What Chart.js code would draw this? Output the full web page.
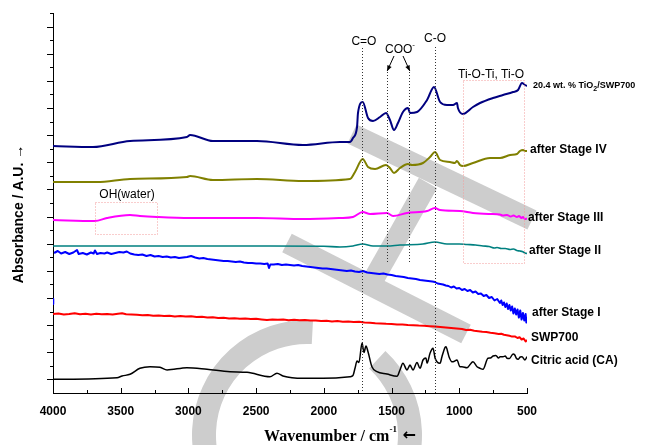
<!DOCTYPE html>
<html>
<head>
<meta charset="UTF-8">
<title>FTIR spectra</title>
<script src="https://cdn.jsdelivr.net/npm/chart.js@4.4.1/dist/chart.umd.min.js"></script>
<style>
  html, body { margin: 0; padding: 0; background: #fff; }
  #wrap { width: 646px; height: 445px; }
</style>
</head>
<body>
<div id="wrap"><canvas id="c" width="646" height="445"></canvas></div>
<script>
// wavenumber (cm-1) / absorbance (a.u., stacked)
const navyWn = [4000,3705,3431,3011,2988,2819,2494,2154,1881,1807,1785,1755,1748,1713,1674,1637,1585,1541,1512,1482,1453,1416,1379,1364,1312,1238,1187,1142,1091,1046,1017,1010,973,899,847,751,677,603,566,537,515,500];
const navyAbs = [24.7,24.6,25.2,25.6,25.8,25.2,25.2,24.8,25.1,25.1,25.5,26.6,28.0,29.1,27.5,27.2,27.6,28.0,27.3,26.3,27.0,28.1,28.5,28.0,28.1,29.3,30.6,29.1,28.8,28.8,29.0,28.5,27.9,28.6,29.0,29.5,29.8,30.1,30.3,31.0,30.8,30.7];

const stage4Wn = [4000,3675,3431,3011,2988,2819,2494,2154,1807,1770,1713,1674,1622,1541,1512,1482,1438,1379,1349,1268,1216,1179,1142,1069,1032,1017,995,973,899,773,699,625,574,552,529,515,500];
const stage4Abs = [21.1,21.1,21.4,21.6,21.7,21.3,21.4,21.2,21.4,22.1,23.4,22.6,22.4,22.8,22.5,22.0,22.5,22.9,22.8,23.0,23.6,24.1,23.3,23.1,23.0,23.2,22.8,22.7,23.0,23.5,23.5,23.8,23.9,24.2,24.3,24.2,24.2];

const stage3Wn = [4000,3690,3601,3431,3358,3232,2988,2494,2154,1881,1785,1713,1659,1534,1489,1386,1238,1179,1142,995,899,773,700,680,648,620,600,574,560,540,530,515,500];
const stage3Abs = [17.3,17.2,17.5,17.8,17.7,17.6,17.5,17.5,17.4,17.5,17.6,18.1,17.9,18.0,17.7,18.0,18.2,18.5,18.3,18.2,18.0,17.9,17.85,17.75,17.8,17.65,17.75,17.6,17.7,17.5,17.6,17.4,17.45];

const stage2Wn = [4000,3500,3000,2500,2000,1881,1785,1713,1637,1534,1438,1268,1179,1091,1000,943,880,825,780,740,721,690,660,625,600,575,552,535,515,500];
const stage2Abs = [14.7,14.7,14.7,14.7,14.68,14.6,14.7,14.9,14.7,14.7,14.8,14.9,15.1,14.9,14.9,14.85,14.8,14.7,14.65,14.5,14.55,14.45,14.45,14.35,14.4,14.25,14.2,14.15,14.0,13.95];

const stage1Wn = [4000,3998,3996,3992,3965,3940,3910,3880,3850,3823,3810,3780,
  3750,3720,3700,3690,3675,3650,3620,3600,3570,3540,
  3510,3480,3455,3430,3400,3370,3340,3310,3280,3250,
  3220,3190,3160,3130,3100,3070,3040,3010,2980,2950,
  2920,2890,2860,2830,2800,2770,2740,2710,2680,2650,
  2620,2590,2560,2530,2500,2470,2440,2415,2405,2395,
  2370,2340,2310,2280,2250,2220,2190,2160,2130,2100,
  2070,2040,2010,1980,1950,1920,1890,1860,1830,1800,
  1770,1740,1710,1680,1650,1620,1590,1560,1530,1500,
  1470,1440,1410,1380,1350,1320,1290,1260,1230,1200,
  1180,1160,1140,1120,1100,1080,1060,1040,1020,1000,
  980,960,940,920,900,880,860,840,820,800,
  780,760,740,720,700,690,680,670,660,650,
  640,630,620,610,600,590,580,570,560,550,
  540,530,520,510,505,500];
const stage1Abs = [9.4,8.9,null,14.0,14.2,13.95,14.1,13.9,14.05,14.3,13.9,14.0,
  13.85,14.05,13.95,14.25,13.9,14.0,13.95,14.05,13.9,14.0,
  14.1,14.05,14.15,13.95,13.85,13.8,13.85,13.7,13.8,13.65,
  13.7,13.6,13.65,13.55,13.6,13.5,13.55,13.6,13.7,13.55,
  13.45,13.5,13.4,13.35,13.3,13.25,13.2,13.2,13.15,13.1,
  13.15,13.05,13.0,13.0,12.95,12.95,12.9,12.95,12.5,12.85,
  12.85,12.9,12.8,12.85,12.8,12.75,12.8,12.7,12.65,12.6,
  12.55,12.5,12.45,12.45,12.4,12.35,12.3,12.25,12.2,12.25,
  12.15,12.1,12.2,12.05,12.0,11.95,11.9,11.95,11.85,11.8,
  11.7,11.65,11.6,11.5,11.45,11.4,11.3,11.25,11.2,11.15,
  11.1,10.95,10.9,10.85,10.75,10.7,10.55,10.65,10.45,10.5,
  10.3,10.4,10.2,10.3,10.05,10.15,9.9,9.95,9.7,9.8,
  9.5,9.6,9.25,9.4,9.0,9.25,8.8,9.05,8.6,8.95,
  8.4,8.8,8.25,8.65,7.95,8.45,7.85,8.35,7.55,8.25,
  7.35,8.0,7.25,7.9,7.05,7.6];

const swpWn = [4000,3960,3920,3880,3840,3800,3760,3720,3680,3640,
  3600,3560,3520,3490,3460,3420,3380,3340,3300,3260,
  3220,3180,3140,3100,3060,3020,2980,2940,2900,2860,
  2820,2780,2740,2700,2660,2620,2580,2540,2500,2460,
  2420,2380,2340,2300,2260,2220,2180,2140,2100,2060,
  2020,1980,1940,1900,1860,1820,1780,1740,1700,1660,
  1620,1580,1540,1500,1460,1420,1380,1340,1300,1260,
  1220,1180,1140,1100,1060,1020,980,950,920,890,
  860,830,800,770,740,710,690,670,650,630,
  610,590,570,555,540,525,510,500];
const swpAbs = [7.9,7.95,7.85,7.9,7.98,7.88,7.93,7.86,7.92,7.87,
  7.9,7.84,7.92,7.97,7.88,7.85,7.82,7.78,7.8,7.72,
  7.75,7.7,7.72,7.66,7.7,7.64,7.67,7.6,7.62,7.56,
  7.58,7.5,7.52,7.46,7.48,7.42,7.45,7.4,7.42,7.36,
  7.3,7.36,7.32,7.34,7.28,7.32,7.27,7.3,7.24,7.26,
  7.2,7.22,7.16,7.19,7.13,7.15,7.1,7.12,7.06,7.02,
  6.98,6.96,6.92,6.9,6.86,6.84,6.8,6.78,6.74,6.72,
  6.68,6.64,6.6,6.55,6.5,6.45,6.4,6.3,6.32,6.22,
  6.18,6.12,6.1,6.02,5.98,5.9,5.92,5.82,5.78,5.72,
  5.64,5.66,5.5,5.58,5.35,5.45,5.15,5.3];

const caWn = [4000,3527,3490,3431,3358,3284,3210,3158,3011,2863,
  2693,2567,2398,2346,2302,2154,2006,1807,1785,1770,
  1755,1741,1718,1704,1689,1674,1645,1608,1534,1460,
  1438,1416,1386,1364,1342,1312,1290,1268,1246,1238,
  1216,1194,1179,1165,1142,1128,1105,1098,1083,1076,
  1054,1046,1017,995,980,943,899,869,847,825,
  788,770,751,730,710,699,677,660,648,630,
  603,590,580,566,550,537,515,500];
const caAbs = [1.37,1.53,1.7,1.87,2.47,2.63,2.57,2.3,2.53,2.37,
  2.13,2.07,1.63,1.97,1.7,1.47,1.47,1.63,1.75,2.47,
  3.2,3.05,5.0,4.05,4.7,4.13,2.63,2.13,1.9,1.67,
  2.3,2.97,2.3,2.8,2.3,3.05,2.47,3.3,3.5,2.97,
  3.97,4.47,3.5,3.13,2.97,3.63,4.57,4.63,3.97,3.63,
  3.13,3.13,3.3,2.63,2.63,2.53,3.13,2.63,2.47,2.37,
  3.47,3.5,3.7,3.75,3.5,3.63,3.63,3.7,3.47,3.45,
  3.9,3.8,3.5,3.37,3.6,3.63,3.3,3.63];

const seriesNames = ['20.4 wt. % TiO2/SWP700', 'after Stage IV', 'after Stage III', 'after Stage II', 'after Stage I', 'SWP700', 'Citric acid (CA)'];
const xMajorTicks = [4000, 3500, 3000, 2500, 2000, 1500, 1000, 500];
const xMinorTicks = [3750, 3250, 2750, 2250, 1750, 1250, 750];

// band assignment lines (cm-1)
const bandCO = 1715, bandCOO = [1536, 1369], bandCsO = 1179;
const boxTiO = [970, 520], boxOH = [3690, 3232];

const SANS = '"Liberation Sans", Arial, sans-serif';
const SERIF = '"Liberation Serif", "Times New Roman", serif';

function pts(wn, ab) { return wn.map((w, i) => ({ x: w, y: ab[i] })); }

function line(label, wn, ab, color, width, smooth) {
  return {
    label: label, data: pts(wn, ab), borderColor: color, borderWidth: width,
    pointRadius: 0, fill: false, spanGaps: false, borderJoinStyle: 'round',
    cubicInterpolationMode: smooth ? 'monotone' : 'default', tension: 0
  };
}

function textParts(ctx, x, y, parts, align) {
  let w = 0;
  parts.forEach(p => { ctx.font = p.font; w += ctx.measureText(p.t).width; });
  let cx = align === 'center' ? x - w / 2 : x;
  ctx.textAlign = 'left';
  parts.forEach(p => {
    ctx.font = p.font;
    ctx.fillText(p.t, cx, y + (p.dy || 0));
    cx += ctx.measureText(p.t).width;
  });
}

function arrow(ctx, x1, y1, x2, y2) {
  const a = Math.atan2(y2 - y1, x2 - x1);
  ctx.beginPath(); ctx.moveTo(x1, y1); ctx.lineTo(x2, y2); ctx.stroke();
  ctx.beginPath();
  ctx.moveTo(x2, y2);
  ctx.lineTo(x2 - 6 * Math.cos(a - 0.4), y2 - 6 * Math.sin(a - 0.4));
  ctx.lineTo(x2 - 6 * Math.cos(a + 0.4), y2 - 6 * Math.sin(a + 0.4));
  ctx.closePath(); ctx.fill();
}

const decor = {
  id: 'decor',
  beforeDraw(chart) {
    // grey watermark behind the plot
    const ctx = chart.ctx;
    ctx.save();
    ctx.strokeStyle = '#cdcdcd';
    ctx.lineWidth = 21;
    ctx.lineCap = 'butt';
    ctx.beginPath(); ctx.moveTo(352, 134); ctx.lineTo(532, 220); ctx.stroke();
    ctx.beginPath(); ctx.moveTo(287, 243); ctx.lineTo(466, 334); ctx.stroke();
    ctx.beginPath(); ctx.moveTo(428, 183); ctx.lineTo(372, 282); ctx.stroke();
    ctx.lineWidth = 24;
    const d = Math.PI / 180;
    ctx.beginPath(); ctx.arc(307, 435, 103, -87 * d, 100 * d, true); ctx.stroke();
    ctx.beginPath(); ctx.arc(307, 435, 103, -47 * d, 90 * d, false); ctx.stroke();
    ctx.restore();
  },
  afterDraw(chart) {
    const ctx = chart.ctx, xs = chart.scales.x, ys = chart.scales.y, a = chart.chartArea;
    ctx.save();
    ctx.strokeStyle = '#000'; ctx.fillStyle = '#000'; ctx.lineWidth = 1;

    // tick marks: x inward, y outward
    ctx.beginPath();
    xMajorTicks.forEach(w => { const p = Math.round(xs.getPixelForValue(w)) + 0.5; ctx.moveTo(p, a.bottom); ctx.lineTo(p, a.bottom - 5); });
    xMinorTicks.forEach(w => { const p = Math.round(xs.getPixelForValue(w)) + 0.5; ctx.moveTo(p, a.bottom); ctx.lineTo(p, a.bottom - 3); });
    for (let i = 1; i <= 28; i++) {
      const p = Math.round(ys.getPixelForValue(i * 38 / 28)) + 0.5;
      ctx.moveTo(a.left, p); ctx.lineTo(a.left - (i % 2 ? 6 : 3), p);
    }
    ctx.stroke();

    // dotted assignment lines
    ctx.setLineDash([1, 2]);
    ctx.strokeStyle = '#333';
    const vline = (w, yTop, yBot) => {
      const p = Math.round(xs.getPixelForValue(w)) + 0.5;
      ctx.beginPath(); ctx.moveTo(p, ys.getPixelForValue(yTop)); ctx.lineTo(p, ys.getPixelForValue(yBot)); ctx.stroke();
    };
    vline(bandCO, 34.5, 0);
    vline(bandCsO, 34.6, 0);
    bandCOO.forEach(w => vline(w, 32.1, 13.0));

    ctx.strokeStyle = '#f29a9a';
    const box = (w1, w2, y1, y2) => {
      const l = Math.round(xs.getPixelForValue(w1)) + 0.5, r = Math.round(xs.getPixelForValue(w2)) + 0.5;
      const t = Math.round(ys.getPixelForValue(y1)) + 0.5, b = Math.round(ys.getPixelForValue(y2)) + 0.5;
      ctx.strokeRect(l, t, r - l, b - t);
    };
    box(boxTiO[0], boxTiO[1], 31.3, 13.0);
    box(boxOH[0], boxOH[1], 19.1, 15.9);
    ctx.setLineDash([]);

    // COO- arrows
    ctx.strokeStyle = '#000';
    const c1 = xs.getPixelForValue(bandCOO[0]), c2 = xs.getPixelForValue(bandCOO[1]);
    const yTip = ys.getPixelForValue(32.1) - 1;
    arrow(ctx, 394, 56, c1 + 0.5, yTip);
    arrow(ctx, 403, 56, c2 + 0.5, yTip);

    // annotation labels
    ctx.textBaseline = 'middle';
    const norm = '12px ' + SANS;
    ctx.textAlign = 'center'; ctx.font = norm;
    ctx.fillText('C=O', xs.getPixelForValue(bandCO) + 1.5, 42);
    ctx.fillText('C-O', xs.getPixelForValue(bandCsO), 39);
    textParts(ctx, 400, 50, [{ t: 'COO', font: norm }, { t: '-', font: '8px ' + SANS, dy: -5 }], 'center');
    ctx.textAlign = 'center'; ctx.font = norm;
    ctx.fillText('Ti-O-Ti, Ti-O', 491, 75);
    ctx.fillText('OH(water)', 127, 195);

    // series labels on the right
    const bold = 'bold 12px ' + SANS;
    textParts(ctx, 533, 86, [
      { t: '20.4 wt. % TiO', font: 'bold 9px ' + SANS },
      { t: '2', font: 'bold 7px ' + SANS, dy: 3 },
      { t: '/SWP700', font: 'bold 9px ' + SANS }], 'left');
    ctx.font = bold; ctx.textAlign = 'left';
    ctx.fillText(seriesNames[1], 530, 150);
    ctx.fillText(seriesNames[2], 528, 218);
    ctx.fillText(seriesNames[3], 529, 251);
    ctx.fillText(seriesNames[4], 532, 313);
    ctx.fillText(seriesNames[5], 531, 338);
    ctx.fillText(seriesNames[6], 531, 361);

    // axis titles
    ctx.save();
    ctx.translate(19, 214); ctx.rotate(-Math.PI / 2);
    ctx.textAlign = 'center'; ctx.font = 'bold 14px ' + SANS;
    ctx.fillText('Absorbance / A.U. \u2192', 0, 0);
    ctx.restore();
    textParts(ctx, 340, 437, [
      { t: 'Wavenumber / cm', font: 'bold 16px ' + SERIF },
      { t: '-1', font: 'bold 9px ' + SERIF, dy: -7 },
      { t: ' \u2190', font: 'bold 16px "DejaVu Sans", sans-serif', dy: -1 }], 'center');
    ctx.restore();
  }
};

new Chart(document.getElementById('c'), {
  type: 'line',
  data: {
    datasets: [
      line(seriesNames[0], navyWn, navyAbs, '#000080', 2, true),
      line(seriesNames[1], stage4Wn, stage4Abs, '#808000', 2, true),
      line(seriesNames[2], stage3Wn, stage3Abs, '#ff00ff', 2, true),
      line(seriesNames[3], stage2Wn, stage2Abs, '#008080', 1.6, true),
      line(seriesNames[4], stage1Wn, stage1Abs, '#0000ff', 2, false),
      line(seriesNames[5], swpWn, swpAbs, '#ff0000', 2, false),
      line(seriesNames[6], caWn, caAbs, '#000000', 1.5, true)
    ]
  },
  options: {
    responsive: false,
    animation: false,
    devicePixelRatio: 1,
    layout: { padding: { left: 0, right: 119, top: 13, bottom: 0 } },
    plugins: { legend: { display: false }, tooltip: { enabled: false } },
    scales: {
      x: {
        type: 'linear', reverse: true, min: 500, max: 4000,
        afterFit: s => { s.height = 52; },
        grid: { display: true, drawOnChartArea: false, drawTicks: false },
        border: { display: true, color: '#000', width: 1 },
        ticks: {
          stepSize: 500, autoSkip: false, maxRotation: 0, padding: 11,
          color: '#000', font: { family: SANS, size: 12, weight: 'bold' },
          callback: v => String(v)
        }
      },
      y: {
        type: 'linear', min: 0, max: 38,
        afterFit: s => { s.width = 53; },
        grid: { display: true, drawOnChartArea: false, drawTicks: false },
        border: { display: true, color: '#000', width: 1 },
        ticks: { display: false }
      }
    }
  },
  plugins: [decor]
});
</script>
</body>
</html>
